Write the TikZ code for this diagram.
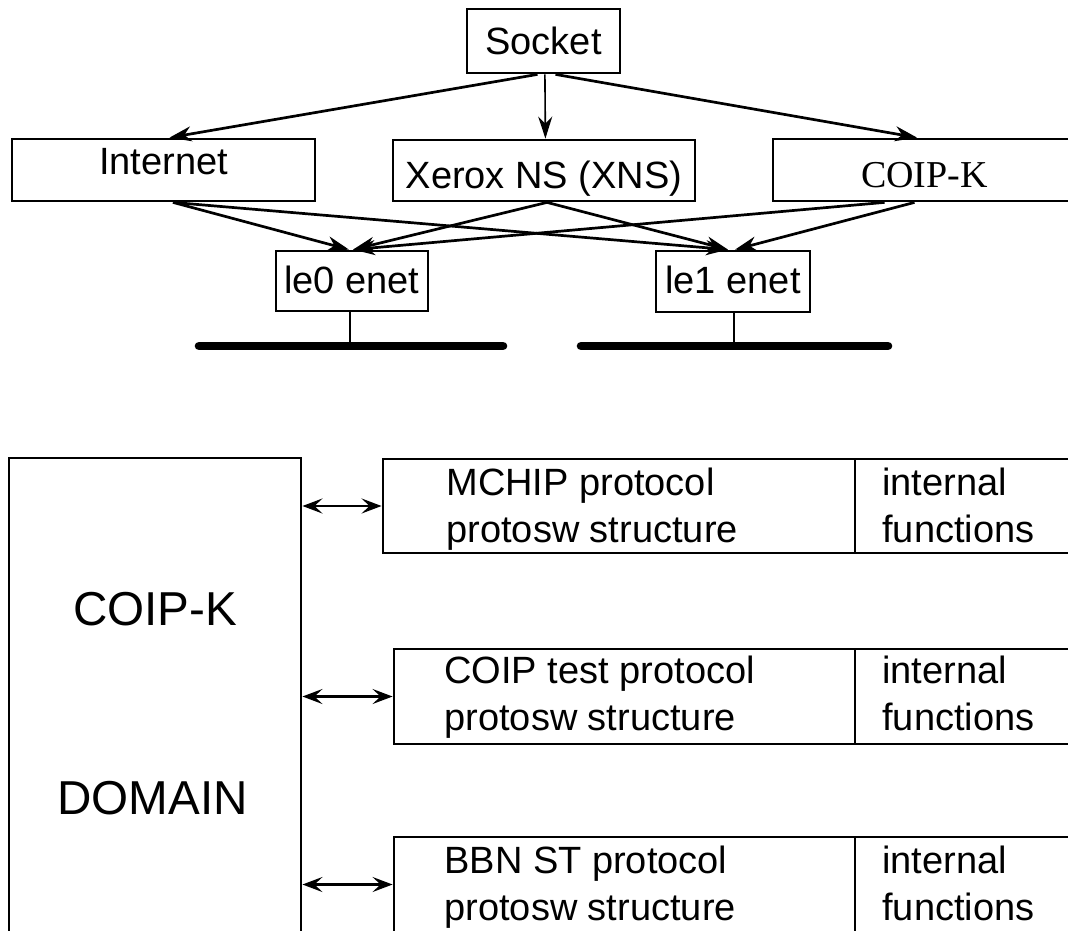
\documentclass[tikz,border=0pt]{standalone}
\usepackage{fontspec}
\setmainfont{Liberation Sans}
\newfontfamily\serifface{Liberation Serif}
\usetikzlibrary{arrows.meta}

\tikzset{
  frame/.style={draw, line width=1.4pt, inner sep=0pt, text depth=0pt,
                font=\fontsize{19}{23.5}\selectfont},
  cell/.style={draw, line width=1.45pt, inner sep=0pt},
  celltext/.style={inner sep=0pt, anchor=base west, font=\fontsize{19}{23.5}\selectfont},
  bigtext/.style={inner sep=0pt, anchor=base, font=\fontsize{23.8}{28}\selectfont},
  conn/.style={line width=1.35pt, -{Stealth[length=11pt,width=7.5pt,inset=3.5pt]}},
  thinconn/.style={line width=0.8pt, -{Stealth[length=11pt,width=7pt,inset=3.5pt]}},
  twoway/.style={line width=1.3pt,
    {Stealth[length=10pt,width=7.5pt,inset=4pt]}-{Stealth[length=10pt,width=7.5pt,inset=4pt]}},
  stem/.style={line width=0.9pt},
  bus/.style={line width=4.3pt, line cap=round}
}

\begin{document}
\begin{tikzpicture}[x=0.5pt, y=-0.5pt]
\useasboundingbox (0,0) rectangle (1068,930);
\clip (0,0) rectangle (1068,930);

% ---- protocol families over the two Ethernet interfaces ----
\node[frame, minimum width=76.5pt, minimum height=32pt, text height=14pt]
  (socket) at (543.5,41) {Socket};
\node[frame, minimum width=151.5pt, minimum height=31pt, text height=5pt]
  (inet) at (163.5,170) {Internet};
\node[frame, minimum width=151pt, minimum height=30.5pt, text height=18.5pt]
  (xns) at (544,170.5) {Xerox NS (XNS)};
\node[frame, minimum width=151.5pt, minimum height=31pt, text height=18pt,
      font=\fontsize{19}{23.5}\serifface]
  (coipk) at (924.5,170) {COIP-K};
\node[frame, minimum width=76pt, minimum height=30pt, text height=12pt]
  (le0) at (352,281) {le0 enet};
\node[frame, minimum width=77pt, minimum height=30.5pt, text height=11.5pt]
  (le1) at (733,281.5) {le1 enet};

\draw[conn] ([xshift=-3pt]socket.south) -- ([xshift=3pt]inet.north);
\draw[thinconn] ([xshift=0.7pt]socket.south) -- ([xshift=0.7pt]xns.north);
\draw[conn] ([xshift=6pt]socket.south) -- ([xshift=-3.75pt]coipk.north);

\draw[conn] ([xshift=4.75pt]inet.south) -- ([xshift=-1.5pt]le0.north);
\draw[conn] ([xshift=4.75pt]inet.south) -- ([xshift=-2.5pt]le1.north);
\draw[conn] ([xshift=1.5pt]xns.south) -- ([xshift=0.5pt]le0.north);
\draw[conn] ([xshift=1.5pt]xns.south) -- ([xshift=-2.5pt]le1.north);
\draw[conn] ([xshift=-20pt]coipk.south) -- ([xshift=0.5pt]le0.north);
\draw[conn] ([xshift=-5pt]coipk.south) -- ([xshift=1pt]le1.north);

% Ethernet cables
\coordinate (bus0w) at (199,346);
\coordinate (bus0e) at (503,346);
\coordinate (bus1w) at (581,346);
\coordinate (bus1e) at (888,346);
\draw[bus] (bus0w) -- (bus0e);
\draw[bus] (bus1w) -- (bus1e);
\draw[stem] ([xshift=-1pt]le0.south) -- ([xshift=-1pt]le0.south |- bus0w);
\draw[stem] ([xshift=0.5pt]le1.south) -- ([xshift=0.5pt]le1.south |- bus1w);

% ---- the COIP-K domain and its protocol switch entries ----
\node[cell, minimum width=146pt, minimum height=241pt] (domain) at (155,699) {};
\node[bigtext] (domA) at (155,625) {COIP-K};
\node[bigtext] (domB) at (152.5,814) {DOMAIN};

\node[cell, minimum width=236pt, minimum height=47pt] (p1) at (619,506) {};
\node[cell, minimum width=112.5pt, minimum height=47pt] (f1) at (967.5,506) {};
\node[celltext] (p1t) at (446,495)
  {\begin{tabular}[t]{@{}l@{}}MCHIP protocol\\protosw structure\end{tabular}};
\node[celltext] (f1t) at (882,495)
  {\begin{tabular}[t]{@{}l@{}}internal\\functions\end{tabular}};

\node[cell, minimum width=230.5pt, minimum height=47.5pt] (p2) at (624.5,696.5) {};
\node[cell, minimum width=112.5pt, minimum height=47.5pt] (f2) at (967.5,696.5) {};
\node[celltext] (p2t) at (444,683)
  {\begin{tabular}[t]{@{}l@{}}COIP test protocol\\protosw structure\end{tabular}};
\node[celltext] (f2t) at (882,683)
  {\begin{tabular}[t]{@{}l@{}}internal\\functions\end{tabular}};

\node[cell, minimum width=230.5pt, minimum height=47.5pt] (p3) at (624.5,884.5) {};
\node[cell, minimum width=112.5pt, minimum height=47.5pt] (f3) at (967.5,884.5) {};
\node[celltext] (p3t) at (444,873)
  {\begin{tabular}[t]{@{}l@{}}BBN ST protocol\\protosw structure\end{tabular}};
\node[celltext] (f3t) at (882,873)
  {\begin{tabular}[t]{@{}l@{}}internal\\functions\end{tabular}};

\draw[twoway] (p1.west -| domain.east) -- (p1.west);
\draw[twoway] (p2.west -| domain.east) -- (p2.west);
\draw[twoway] (p3.west -| domain.east) -- (p3.west);
\end{tikzpicture}
\end{document}
